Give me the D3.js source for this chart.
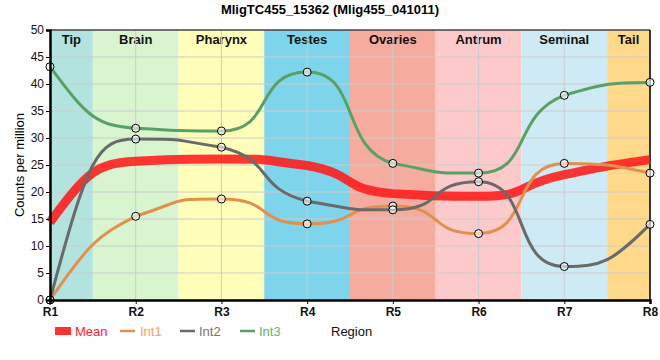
<!DOCTYPE html>
<html><head><meta charset="utf-8">
<script src="https://cdn.jsdelivr.net/npm/d3@7"></script>
<style>body{margin:0;background:#fff}svg{display:block;font-family:Arial,"Liberation Sans",sans-serif}</style>
</head><body>
<svg id="c" width="660" height="360"></svg>
<script>
const regions = ["R1","R2","R3","R4","R5","R6","R7","R8"];
const bandNames = ["Tip","Brain","Pharynx","Testes","Ovaries","Antrum","Seminal","Tail"];
const bandColors = ["#b3e3df","#d8f5d0","#ffffb9","#7dd4eb","#f5ab9e","#fdcacb","#ceebf5","#fed98b"];
const mean = [14.4, 25.7, 26.1, 24.9, 19.7, 19.2, 23.2, 26.0];
const int1 = [0, 15.5, 18.7, 14.1, 17.4, 12.3, 25.3, 23.5];
const int2 = [0, 29.8, 28.3, 18.3, 16.7, 21.9, 6.2, 14.0];
const int3 = [43.2, 31.8, 31.3, 42.2, 25.3, 23.5, 37.9, 40.3];
const yTicks = [0,5,10,15,20,25,30,35,40,45,50];

const svg = d3.select("#c");
const L=50,R=650,T=30,B=300;
const x = d3.scaleLinear().domain([0,regions.length-1]).range([L,R]);
const y = d3.scaleLinear().domain([0,50]).range([B,T]);

// bands
bandNames.forEach((n,i)=>{
  const x0 = x(Math.max(0,i-0.5)), x1 = x(Math.min(regions.length-1,i+0.5));
  svg.append("rect").attr("x",x0).attr("y",T).attr("width",x1-x0).attr("height",B-T).attr("fill",bandColors[i]);
  svg.append("text").attr("x",(x0+x1)/2).attr("y",T+14).attr("text-anchor","middle")
    .attr("font-size",13).attr("font-weight","bold").attr("fill","#111").text(n);
});
// grid
yTicks.forEach(v=>{
  svg.append("line").attr("x1",L).attr("x2",R).attr("y1",y(v)).attr("y2",y(v)).attr("stroke","#cccccc").attr("stroke-width",1);
});
regions.forEach((r,i)=>{
  svg.append("line").attr("x1",x(i)).attr("x2",x(i)).attr("y1",T).attr("y2",B).attr("stroke","#cccccc").attr("stroke-width",1);
});
// frame
svg.append("line").attr("x1",L).attr("x2",R).attr("y1",T).attr("y2",T).attr("stroke","#000").attr("stroke-width",1);
svg.append("line").attr("x1",R).attr("x2",R).attr("y1",T).attr("y2",B).attr("stroke","#000").attr("stroke-width",1.5);

// smooth curve: clamped tangents, control points far from the knots
function smoothPath(data){
  const n=data.length, a=0.62, f=0.9, m=new Array(n).fill(null);
  for(let i=1;i<n-1;i++){
    const yp=data[i-1], yc=data[i], yn=data[i+1];
    let ly=(1.5*yc+yp)/2.5, ry=(1.5*yc+yn)/2.5;
    const corr=(ry-ly)*0.5+yc-ry; ly+=corr; ry+=corr;
    if(ly>yp&&ly>yc){ly=Math.max(yp,yc);ry=2*yc-ly;}
    else if(ly<yp&&ly<yc){ly=Math.min(yp,yc);ry=2*yc-ly;}
    if(ry>yn&&ry>yc){ry=Math.max(yn,yc);ly=2*yc-ry;}
    else if(ry<yn&&ry<yc){ry=Math.min(yn,yc);ly=2*yc-ry;}
    m[i]=(ry-yc)/0.4;
  }
  const clamp=(v,p,q)=>Math.max(Math.min(p,q),Math.min(Math.max(p,q),v));
  const path=d3.path();
  path.moveTo(x(0),y(data[0]));
  for(let i=0;i<n-1;i++){
    const y0=data[i], y1=data[i+1];
    if(m[i]!==null && m[i+1]!==null){
      const c1=clamp(y0+a*m[i],y0,y1), c2=clamp(y1-a*m[i+1],y0,y1);
      path.bezierCurveTo(x(i+a),y(c1),x(i+1-a),y(c2),x(i+1),y(y1));
    } else {
      // end segment: curved toward the tangent of the inner knot
      let qx, qy;
      if(m[i+1]!==null){ qx=i+0.5; qy=clamp(y1-0.5*m[i+1],y0,y1); }
      else if(m[i]!==null){ qx=i+0.5; qy=clamp(y0+0.5*m[i],y0,y1); }
      else { qx=i+0.5; qy=(y0+y1)/2; }
      const c1x=i+f*(qx-i), c1y=y0+f*(qy-y0);
      const c2x=(i+1)+f*(qx-i-1), c2y=y1+f*(qy-y1);
      path.bezierCurveTo(x(c1x),y(c1y),x(c2x),y(c2y),x(i+1),y(y1));
    }
  }
  return path.toString();
}
const series = [
  {name:"Mean", data:mean, color:"#ff1a1a", w:9, op:0.88},
  {name:"Int1", data:int1, color:"#e0914f", w:3, op:1},
  {name:"Int2", data:int2, color:"#6a6a6a", w:3, op:1},
  {name:"Int3", data:int3, color:"#5aa066", w:3, op:1}
];
series.forEach(s=>{
  svg.append("path").attr("d",smoothPath(s.data)).attr("fill","none").attr("stroke",s.color)
    .attr("stroke-width",s.w).attr("stroke-opacity",s.op);
});
[1,2,3].forEach(k=>{
  const s=series[k];
  s.data.forEach((v,i)=>{
    svg.append("circle").attr("cx",x(i)).attr("cy",y(v)).attr("r",4).attr("fill","#fff").attr("fill-opacity",0.6)
      .attr("stroke","#000").attr("stroke-width",1);
  });
});

// axes
const ya = svg.append("g").attr("transform",`translate(${L},0)`).call(d3.axisLeft(y).tickValues(yTicks).tickSize(4).tickPadding(2));
ya.select(".domain").attr("stroke-width",2.5);
ya.selectAll("text").attr("font-size",12).attr("fill","#111").attr("font-family","Arial");
const xa = svg.append("g").attr("transform",`translate(0,${B})`).call(d3.axisBottom(x).tickValues(d3.range(regions.length)).tickFormat(i=>regions[i]).tickSize(4).tickPadding(3));
xa.select(".domain").attr("stroke-width",2.5);
xa.selectAll("text").attr("font-size",12).attr("font-weight","bold").attr("fill","#111").attr("font-family","Arial");

// titles
svg.append("text").attr("x",330).attr("y",14).attr("text-anchor","middle").attr("font-size",13).attr("font-weight","bold").text("MligTC455_15362 (Mlig455_041011)");
svg.append("text").attr("transform","translate(24,165) rotate(-90)").attr("text-anchor","middle").attr("font-size",13).text("Counts per million");

// legend
const lg = [{x:55,tx:75},{x:120,tx:140},{x:180,tx:199},{x:240,tx:259}];
series.forEach((s,k)=>{
  const p=lg[k];
  if(k===0){
    svg.append("rect").attr("x",p.x).attr("y",327).attr("width",16).attr("height",8).attr("fill",s.color).attr("fill-opacity",0.9);
  } else {
    svg.append("line").attr("x1",p.x).attr("x2",p.x+15).attr("y1",331).attr("y2",331).attr("stroke",s.color).attr("stroke-width",2.5);
  }
  svg.append("text").attr("x",p.tx).attr("y",336).attr("font-size",13).attr("fill",d3.color(s.color).brighter(0.3)).text(s.name);
});
svg.append("text").attr("x",331).attr("y",336).attr("font-size",13).attr("fill","#111").text("Region");
</script>
</body></html>
